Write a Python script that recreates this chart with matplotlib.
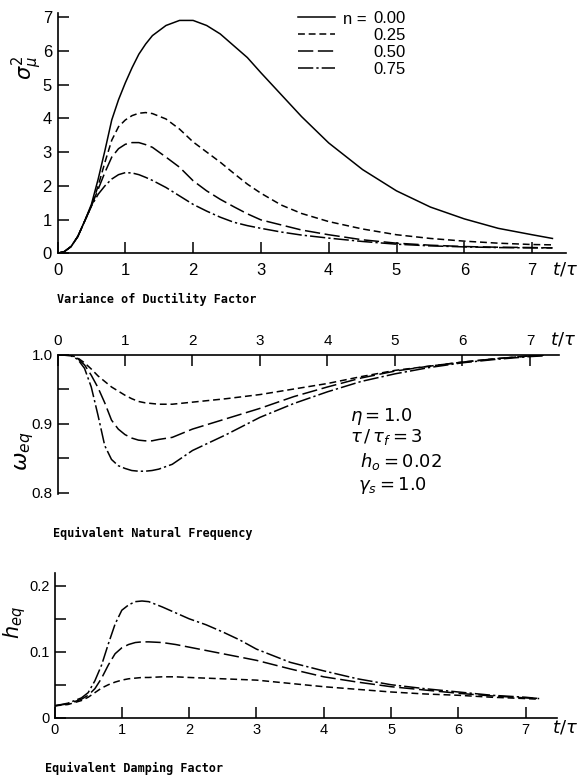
import matplotlib
matplotlib.use('Agg')
from matplotlib import pyplot as plt

# ---- data ----
eta_labels = ['0.00', '0.25', '0.50', '0.75']

# variance of ductility factor
t_var = [0, 0.1, 0.2, 0.3, 0.4, 0.5, 0.6, 0.7, 0.8, 0.9, 1.0, 1.1, 1.2, 1.3, 1.4,
         1.6, 1.8, 2.0, 2.2, 2.4, 2.6, 2.8, 3.0, 3.3, 3.6, 4.0, 4.5, 5.0, 5.5,
         6.0, 6.5, 7.0, 7.3]
var_000 = [0, 0.05, 0.2, 0.5, 0.95, 1.45, 2.2, 3.05, 3.95, 4.55, 5.05, 5.5, 5.9,
           6.2, 6.45, 6.75, 6.9, 6.9, 6.75, 6.5, 6.15, 5.8, 5.35, 4.7, 4.05, 3.27,
           2.48, 1.85, 1.37, 1.02, 0.74, 0.55, 0.44]
var_025 = [0, 0.05, 0.2, 0.5, 0.95, 1.4, 2.0, 2.7, 3.35, 3.75, 3.95, 4.08, 4.15,
           4.17, 4.14, 3.98, 3.68, 3.3, 3.0, 2.7, 2.37, 2.05, 1.78, 1.43, 1.18,
           0.94, 0.72, 0.55, 0.44, 0.36, 0.3, 0.26, 0.25]
var_050 = [0, 0.05, 0.2, 0.5, 0.95, 1.4, 1.9, 2.4, 2.85, 3.1, 3.23, 3.28, 3.28,
           3.22, 3.14, 2.85, 2.55, 2.15, 1.85, 1.6, 1.38, 1.17, 0.99, 0.84, 0.69,
           0.55, 0.4, 0.3, 0.24, 0.2, 0.18, 0.17, 0.16]
var_075 = [0, 0.05, 0.2, 0.5, 0.95, 1.4, 1.75, 2.0, 2.2, 2.33, 2.39, 2.38, 2.33,
           2.25, 2.16, 1.95, 1.7, 1.45, 1.25, 1.07, 0.92, 0.82, 0.74, 0.63, 0.54,
           0.45, 0.35, 0.27, 0.22, 0.19, 0.17, 0.16, 0.16]

# equivalent natural frequency
t_freq = [0, 0.2, 0.3, 0.4, 0.5, 0.6, 0.7, 0.8, 0.9, 1.0, 1.1, 1.2, 1.3, 1.4, 1.5,
          1.7, 2.0, 2.5, 3.0, 3.5, 4.0, 4.5, 5.0, 5.5, 6.0, 6.5, 7.0, 7.2]
freq_025 = [1.0, 0.999, 0.995, 0.988, 0.979, 0.969, 0.961, 0.953, 0.947, 0.941,
            0.936, 0.932, 0.930, 0.929, 0.928, 0.928, 0.931, 0.936, 0.942, 0.950,
            0.958, 0.968, 0.977, 0.983, 0.989, 0.994, 0.998, 0.999]
freq_050 = [1.0, 0.999, 0.994, 0.985, 0.970, 0.952, 0.930, 0.905, 0.892, 0.884,
            0.879, 0.876, 0.875, 0.875, 0.877, 0.880, 0.892, 0.907, 0.922, 0.939,
            0.953, 0.966, 0.976, 0.983, 0.989, 0.994, 0.998, 0.999]
freq_075 = [1.0, 0.998, 0.993, 0.980, 0.953, 0.912, 0.868, 0.848, 0.839, 0.835,
            0.832, 0.831, 0.831, 0.832, 0.834, 0.841, 0.861, 0.884, 0.909, 0.929,
            0.946, 0.961, 0.972, 0.981, 0.988, 0.993, 0.997, 0.998]

# equivalent damping factor
t_damp = [0, 0.2, 0.4, 0.5, 0.6, 0.7, 0.8, 0.9, 1.0, 1.1, 1.2, 1.3, 1.4, 1.6, 1.8,
          2.0, 2.25, 2.5, 2.75, 3.0, 3.5, 4.0, 4.5, 5.0, 5.5, 6.0, 6.5, 7.0, 7.2]
damp_025 = [0.018, 0.020, 0.026, 0.031, 0.038, 0.045, 0.050, 0.054, 0.057, 0.059,
            0.060, 0.061, 0.061, 0.062, 0.062, 0.061, 0.060, 0.059, 0.058, 0.057,
            0.052, 0.047, 0.043, 0.039, 0.036, 0.034, 0.031, 0.029, 0.028]
damp_050 = [0.018, 0.021, 0.028, 0.034, 0.044, 0.060, 0.080, 0.097, 0.106, 0.111,
            0.114, 0.115, 0.115, 0.114, 0.111, 0.107, 0.102, 0.097, 0.092, 0.087,
            0.074, 0.062, 0.054, 0.047, 0.042, 0.037, 0.033, 0.030, 0.029]
damp_075 = [0.018, 0.022, 0.030, 0.038, 0.056, 0.080, 0.112, 0.142, 0.163, 0.171,
            0.176, 0.177, 0.176, 0.168, 0.159, 0.150, 0.141, 0.130, 0.118, 0.104,
            0.084, 0.071, 0.059, 0.050, 0.044, 0.039, 0.034, 0.031, 0.029]

styles = ['-', (0, (4.5, 2.5)), (0, (10, 3)), (0, (10, 2, 1.5, 2))]

W, H = 584, 779
fig = plt.figure(figsize=(W / 100, H / 100), dpi=100)
plt.rcParams['font.family'] = ['Liberation Sans', 'DejaVu Sans']


def px_axes(left, top, right, bottom):
    return fig.add_axes([left / W, 1 - bottom / H, (right - left) / W, (bottom - top) / H])


def style(ax, size):
    for s in ax.spines.values():
        s.set_linewidth(1.2)
    ax.tick_params(direction='in', length=8, width=1.1, labelsize=size)


# panel 1
ax1 = px_axes(57.5, 13, 566, 253.3)
ax1.plot(t_var, var_000, color='k', lw=1.1, ls=styles[0], label=eta_labels[0])
ax1.plot(t_var, var_025, color='k', lw=1.1, ls=styles[1], label=eta_labels[1])
ax1.plot(t_var, var_050, color='k', lw=1.1, ls=styles[2], label=eta_labels[2])
ax1.plot(t_var, var_075, color='k', lw=1.1, ls=styles[3], label=eta_labels[3])
ax1.set_xlim(0, 7.5)
ax1.set_ylim(0, 7.12)
ax1.set_xticks(range(8))
ax1.set_yticks(range(8))
ax1.spines['top'].set_visible(False)
ax1.spines['right'].set_visible(False)
style(ax1, 12)
ax1.tick_params(axis='x', pad=7)
ax1.tick_params(axis='y', pad=4)
leg = ax1.legend(loc='upper left', bbox_to_anchor=(298 / W, 1 - 11 / H),
                 bbox_transform=fig.transFigure, frameon=False, fontsize=12,
                 handlelength=2.2, handletextpad=2.3, labelspacing=0.12,
                 borderpad=0, borderaxespad=0)
fig.text(343 / W, 1 - 19 / H, 'n =', fontsize=12, va='center', ha='left')
fig.text(27 / W, 1 - 68 / H, r'$\sigma_\mu^2$', fontsize=15, rotation=90,
         ha='center', va='center')
fig.text(552 / W, 1 - 270 / H, r'$t/\tau$', fontsize=13, ha='left', va='center')
fig.text(57 / W, 1 - 299 / H, 'Variance of Ductility Factor', fontsize=8.5,
         family='DejaVu Sans Mono', weight='bold', va='center')

# panel 2
ax2 = px_axes(57.5, 354.5, 559, 494)
ax2.plot(t_freq, freq_025, color='k', lw=1.1, ls=styles[1])
ax2.plot(t_freq, freq_050, color='k', lw=1.1, ls=styles[2])
ax2.plot(t_freq, freq_075, color='k', lw=1.1, ls=styles[3])
ax2.set_xlim(0, 7.43)
ax2.set_ylim(0.798, 1.0)
ax2.xaxis.tick_top()
ax2.set_xticks(range(8))
ax2.set_yticks([0.8, 0.9, 1.0])
ax2.set_yticklabels(['0.8', '0.9', '1.0'])
ax2.set_yticks([0.85, 0.95], minor=True)
ax2.spines['bottom'].set_visible(False)
ax2.spines['right'].set_visible(False)
style(ax2, 11)
ax2.tick_params(which='minor', direction='in', length=8, width=1.1)
ax2.tick_params(axis='x', pad=5)
fig.text(25 / W, 1 - 451 / H, r'$\omega_{eq}$', fontsize=16, rotation=90,
         ha='center', va='center')
fig.text(550 / W, 1 - 339 / H, r'$t/\tau$', fontsize=13, ha='left', va='center')
fig.text(350 / W, 1 - 417 / H, r'$\eta = 1.0$', fontsize=13, va='center')
fig.text(350 / W, 1 - 437 / H, r'$\tau\,/\,\tau_f = 3$', fontsize=13, va='center')
fig.text(360 / W, 1 - 462 / H, r'$h_o = 0.02$', fontsize=13, va='center')
fig.text(358 / W, 1 - 485 / H, r'$\gamma_s = 1.0$', fontsize=13, va='center')
fig.text(53 / W, 1 - 533 / H, 'Equivalent Natural Frequency', fontsize=8.5,
         family='DejaVu Sans Mono', weight='bold', va='center')

# panel 3
ax3 = px_axes(54.5, 573.3, 556.7, 717.7)
ax3.plot(t_damp, damp_025, color='k', lw=1.1, ls=styles[1])
ax3.plot(t_damp, damp_050, color='k', lw=1.1, ls=styles[2])
ax3.plot(t_damp, damp_075, color='k', lw=1.1, ls=styles[3])
ax3.set_xlim(0, 7.46)
ax3.set_ylim(0, 0.219)
ax3.set_xticks(range(8))
ax3.set_yticks([0, 0.1, 0.2])
ax3.set_yticklabels(['0', '0.1', '0.2'])
ax3.set_yticks([0.05, 0.15], minor=True)
ax3.spines['top'].set_visible(False)
ax3.spines['right'].set_visible(False)
style(ax3, 10.5)
ax3.tick_params(which='minor', direction='in', length=8, width=1.1)
ax3.tick_params(axis='x', pad=4)
fig.text(15 / W, 1 - 623 / H, r'$h_{eq}$', fontsize=15, rotation=90,
         ha='center', va='center')
fig.text(552 / W, 1 - 728 / H, r'$t/\tau$', fontsize=13, ha='left', va='center')
fig.text(45 / W, 1 - 768 / H, 'Equivalent Damping Factor', fontsize=8.5,
         family='DejaVu Sans Mono', weight='bold', va='center')

fig.savefig('out.png', dpi=100)
